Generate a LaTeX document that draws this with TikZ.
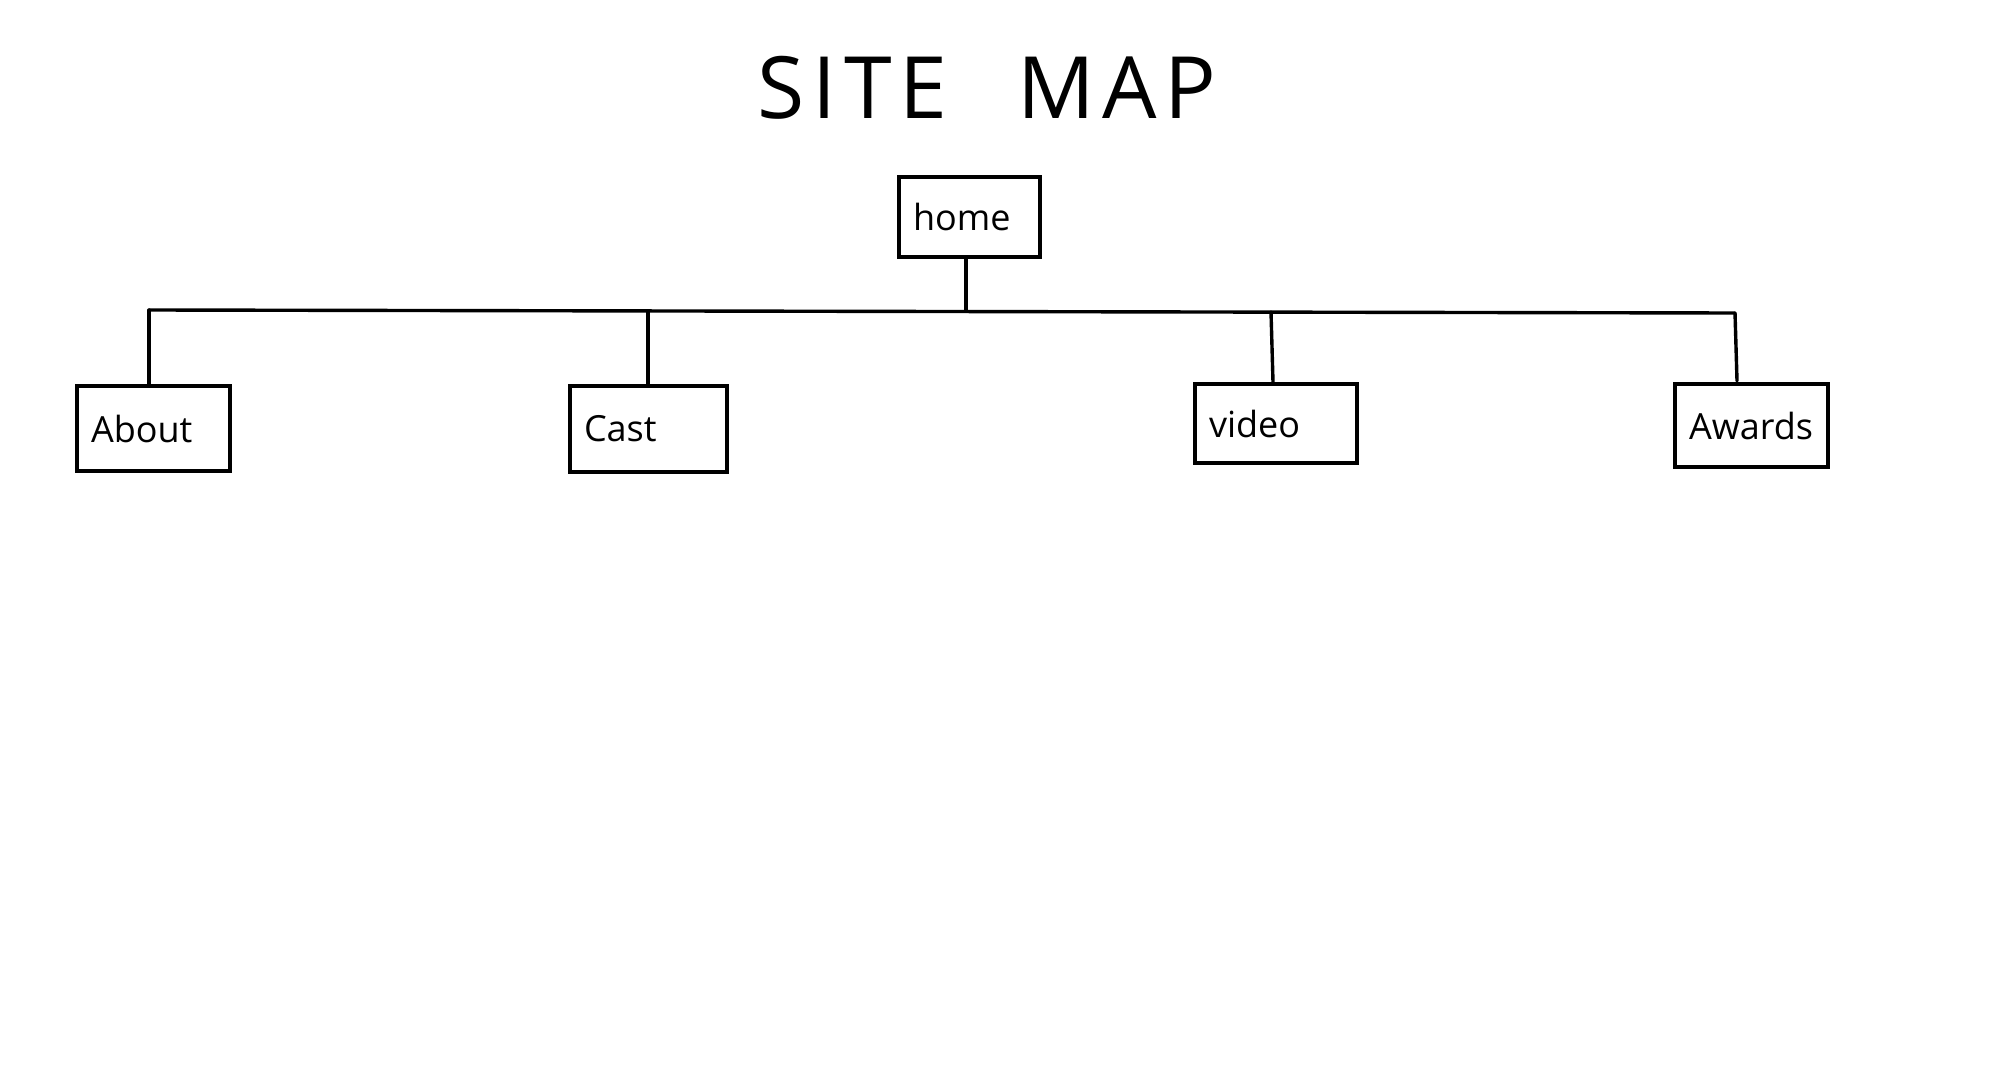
\documentclass[tikz,border=0pt]{standalone}
\usepackage{fontspec}
\setmainfont{Open Sans}
\begin{document}
\begin{tikzpicture}[x=0.5pt,y=-0.5pt,
  page/.style={draw=black, line width=1.7pt, inner xsep=7pt, align=left,
    font=\fontsize{18}{20}\selectfont},
  wire/.style={line width=1.7pt, line cap=round},
  heading/.style={font=\fontsize{43}{45}\selectfont\addfontfeature{LetterSpace=9}}]
\useasboundingbox[fill=white] (0,0) rectangle (2000,1080);

% title
\node[heading] (title) at (987,88) {SITE\hspace{20pt} MAP};

% pages
\node[page, text width=56.5pt, minimum height=40pt] (home)   at (969.5,217) {home};
\node[page, text width=62.5pt, minimum height=42.5pt] (about)  at (153.5,428.5) {About};
\node[page, text width=64.5pt, minimum height=43pt] (cast)   at (648.5,429) {Cast};
\node[page, text width=67pt, minimum height=39.5pt] (video)  at (1276,423.5) {video};
\node[page, text width=62.5pt, minimum height=41.5pt] (awards) at (1751.5,425.5) {Awards};

% bus line and its junctions
\coordinate (busL) at (149,310);
\coordinate (busR) at (1735,313);
\coordinate (busH) at (966,311);
\coordinate (busC) at (648,311);
\coordinate (busV) at (1271,312);
\coordinate (awEnd) at (1737,381);

\draw[wire] (busL) -- (busR);
\draw[wire] (home.south -| busH) -- (busH);
\draw[wire] (busL) -- (about.north -| busL);
\draw[wire] (busC) -- (cast.north -| busC);
\draw[wire] (busV) -- ([xshift=1pt]video.north -| busV);
\draw[wire] (busR) -- (awEnd);
\end{tikzpicture}
\end{document}
